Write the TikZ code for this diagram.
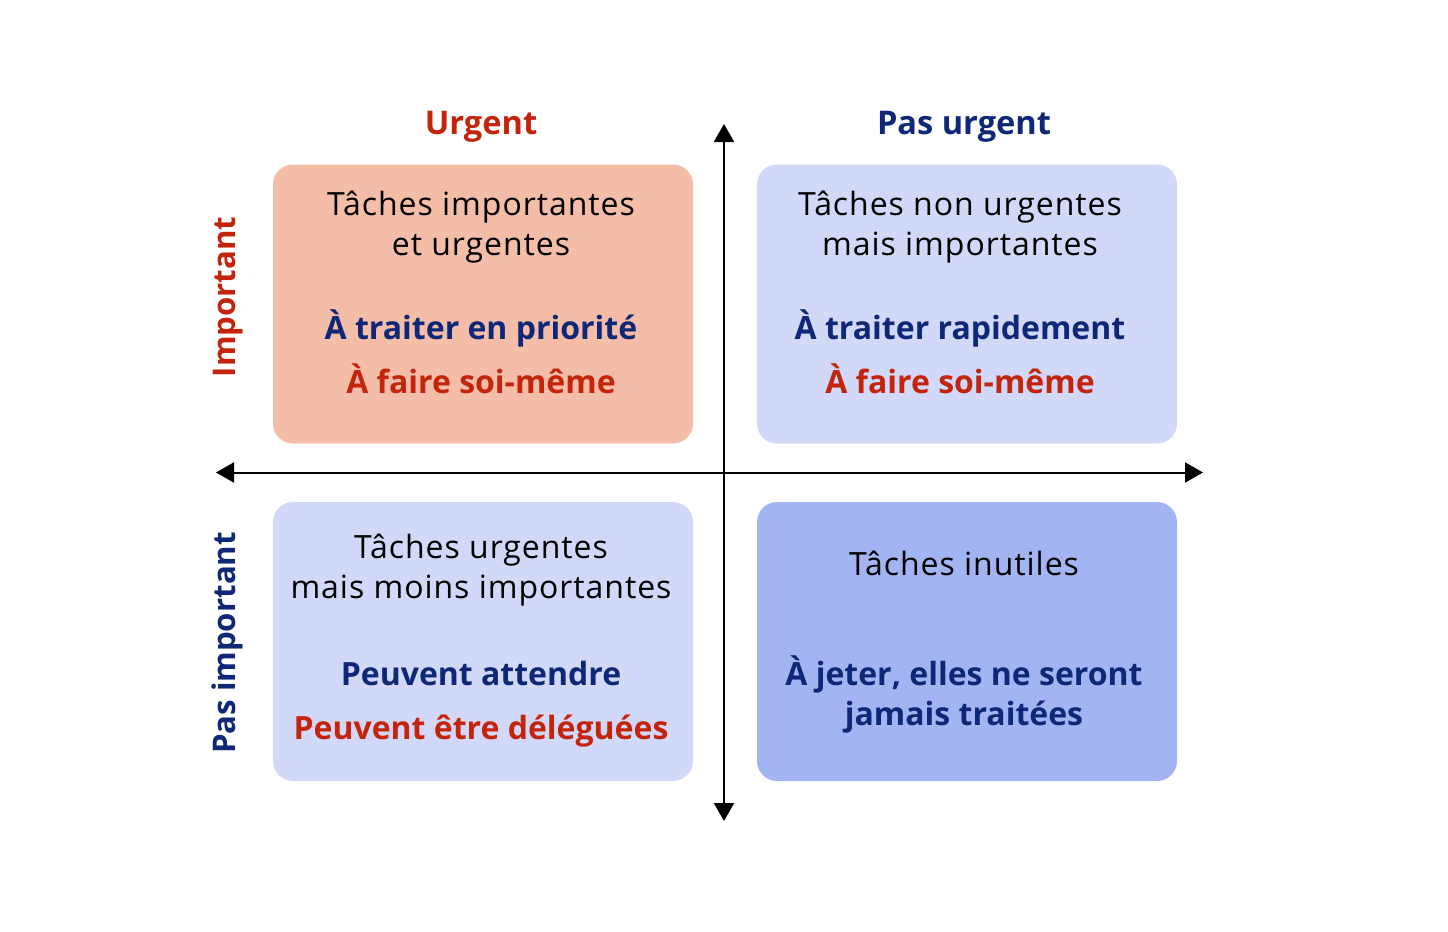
\documentclass[tikz,border=0pt]{standalone}
\usepackage{fontspec}
\setmainfont{Open Sans}
\newfontfamily\regfont[LetterSpace=3]{Open Sans}
\usetikzlibrary{arrows.meta}
\definecolor{redt}{HTML}{C4240C}
\definecolor{bluet}{HTML}{0E2877}
\definecolor{salmon}{HTML}{F4BDA8}
\definecolor{lightb}{HTML}{D1D8F8}
\definecolor{midb}{HTML}{A3B4F3}
\tikzset{
  quad/.style={draw=none,rounded corners=10pt,minimum width=210pt,minimum height=139.5pt,inner sep=0pt},
  reg/.style={font=\regfont\fontsize{16}{18}\selectfont,text=black,align=center,inner sep=0pt},
  bld/.style={font=\fontsize{16}{18}\selectfont\bfseries,align=center,inner sep=0pt},
  hdr/.style={font=\fontsize{16.3}{19}\selectfont\bfseries,inner sep=0pt},
  vhdr/.style={font=\fontsize{15.6}{19}\selectfont\bfseries,inner sep=0pt},
  axis/.style={line width=1pt,{Triangle[length=9pt,width=10pt]}-{Triangle[length=9pt,width=10pt]}}
}
\begin{document}
\begin{tikzpicture}[x=0.5pt,y=-0.5pt]
\useasboundingbox (0,0) rectangle (1448,932);
% quadrants
\node[quad,fill=salmon] (q1) at (483,304) {};
\node[quad,fill=lightb] (q2) at (967,304) {};
\node[quad,fill=lightb] (q3) at (483,641.5) {};
\node[quad,fill=midb] (q4) at (967,641.5) {};
% axes
\coordinate (hl) at (216,472.5);
\coordinate (hr) at (1203,472.5);
\coordinate (vt) at (724,124);
\coordinate (vb) at (724,821);
\draw[axis] (hl) -- (hr);
\draw[axis] (vt) -- (vb);
% headers
\node[hdr,text=redt,anchor=base] (h1) at (481,134) {Urgent};
\node[hdr,text=bluet,anchor=base] (h2) at (964,134) {Pas urgent};
\node[vhdr,text=redt,rotate=90,anchor=base] (h3) at (235,297) {Important};
\node[vhdr,text=bluet,rotate=90,anchor=base] (h4) at (235,643) {Pas important};
% Q1
\node[reg,anchor=base] (t1a) at (481,215) {Tâches importantes};
\node[reg,anchor=base] (t1b) at (481,255) {et urgentes};
\node[bld,text=bluet,anchor=base] (t1c) at (481,339) {À traiter en priorité};
\node[bld,text=redt,anchor=base] (t1d) at (481,393) {À faire soi-même};
% Q2
\node[reg,anchor=base] (t2a) at (960,215) {Tâches non urgentes};
\node[reg,anchor=base] (t2b) at (960,255) {mais importantes};
\node[bld,text=bluet,anchor=base] (t2c) at (960,339) {À traiter rapidement};
\node[bld,text=redt,anchor=base] (t2d) at (960,393) {À faire soi-même};
% Q3
\node[reg,anchor=base] (t3a) at (481,558) {Tâches urgentes};
\node[reg,anchor=base] (t3b) at (481,598) {mais moins importantes};
\node[bld,text=bluet,anchor=base] (t3c) at (481,685) {Peuvent attendre};
\node[bld,text=redt,anchor=base] (t3d) at (481,739) {Peuvent être déléguées};
% Q4
\node[reg,anchor=base] (t4a) at (964,575) {Tâches inutiles};
\node[bld,text=bluet,anchor=base] (t4b) at (964,685) {À jeter, elles ne seront};
\node[bld,text=bluet,anchor=base] (t4c) at (964,725) {jamais traitées};
\end{tikzpicture}
\end{document}
